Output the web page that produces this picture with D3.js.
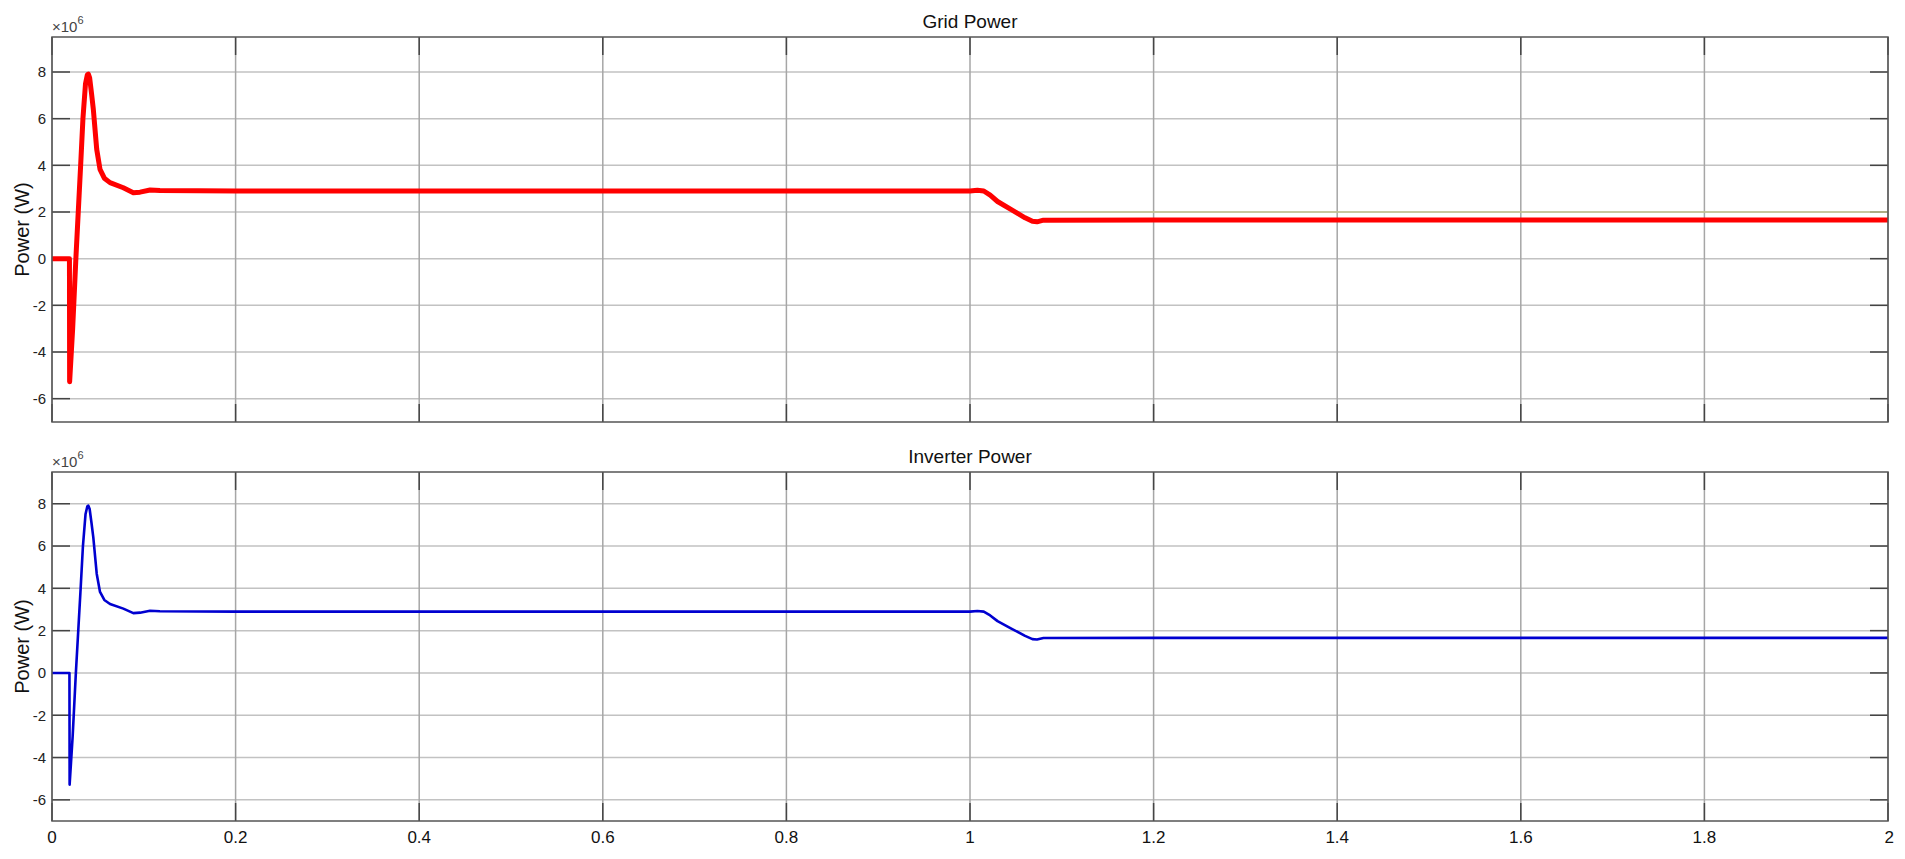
<!DOCTYPE html>
<html>
<head>
<meta charset="utf-8">
<script src="https://cdn.jsdelivr.net/npm/d3@7"></script>
<style>
  body { margin: 0; background: #fff; }
  svg { display: block; font-family: Arial, "Liberation Sans", sans-serif; }
</style>
</head>
<body>
<div id="chart"></div>
<script>
// time (s) and power (x10^6 W)
var time = [0, 0.019, 0.0192, 0.0225, 0.026, 0.0286, 0.0312, 0.0337, 0.0365, 0.0385, 0.0396, 0.041, 0.043, 0.045,
  0.0487, 0.0523, 0.057, 0.0632, 0.0777, 0.0886, 0.0959, 0.1068, 0.1176, 0.2, 0.5, 1.0, 1.008, 1.015, 1.022,
  1.03, 1.045, 1.06, 1.068, 1.073, 1.08, 1.2, 2.0];
var gridPower = [0, 0, -5.28, -3.0, 0, 2, 4, 6, 7.5, 7.88, 7.91, 7.75, 7.1, 6.41,
  4.69, 3.83, 3.45, 3.26, 3.04, 2.83, 2.85, 2.94, 2.92, 2.9, 2.9, 2.9, 2.93, 2.9, 2.72,
  2.45, 2.1, 1.75, 1.6, 1.58, 1.65, 1.66, 1.66];
var inverterPower = [0, 0, -5.28, -3.0, 0, 2, 4, 6, 7.5, 7.88, 7.91, 7.75, 7.1, 6.41,
  4.69, 3.83, 3.45, 3.26, 3.04, 2.83, 2.85, 2.94, 2.92, 2.9, 2.9, 2.9, 2.93, 2.9, 2.72,
  2.45, 2.1, 1.75, 1.6, 1.58, 1.65, 1.66, 1.66];
// faint olive trace visible behind the top grid line after the step
var refTime = [1.075, 2.0];
var refPower = [2, 2];

var xTicks = [0, 0.2, 0.4, 0.6, 0.8, 1, 1.2, 1.4, 1.6, 1.8, 2];
var yTicks = [-6, -4, -2, 0, 2, 4, 6, 8];
var titles = ["Grid Power", "Inverter Power"];

var W = 1905, H = 859;
var left = 52, right = 1888;

var svg = d3.select("#chart").append("svg")
  .attr("width", W)
  .attr("height", H);

var x = d3.scaleLinear().domain([0, 2]).range([left, right]);

var panels = [
  {title: titles[0], top: 37, bottom: 422, values: gridPower, color: "#ff0000", width: 5, ref: true},
  {title: titles[1], top: 472, bottom: 821, values: inverterPower, color: "#0000d0", width: 2.6, ref: false}
];

panels.forEach(function(p, idx) {
  var y = d3.scaleLinear().domain([-7, 9.5]).range([p.bottom, p.top]);
  var g = svg.append("g");

  // horizontal grid
  g.selectAll("line.hgrid")
    .data(yTicks)
    .enter()
    .append("line")
    .attr("class", "hgrid")
    .attr("x1", left).attr("x2", right)
    .attr("y1", function(d) { return y(d); })
    .attr("y2", function(d) { return y(d); })
    .attr("stroke", "#c2c2c2")
    .attr("stroke-width", 1.5);

  // vertical grid
  g.selectAll("line.vgrid")
    .data(xTicks)
    .enter()
    .append("line")
    .attr("class", "vgrid")
    .attr("x1", function(d) { return x(d); })
    .attr("x2", function(d) { return x(d); })
    .attr("y1", p.top).attr("y2", p.bottom)
    .attr("stroke", "#a6a6a6")
    .attr("stroke-width", 1.5);

  // inward ticks on all four sides
  var tl = 18;
  g.selectAll("line.ytl").data(yTicks).enter().append("line")
    .attr("x1", left).attr("x2", left + tl)
    .attr("y1", function(d) { return y(d); }).attr("y2", function(d) { return y(d); })
    .attr("stroke", "#444").attr("stroke-width", 1.5);
  g.selectAll("line.ytr").data(yTicks).enter().append("line")
    .attr("x1", right - tl).attr("x2", right)
    .attr("y1", function(d) { return y(d); }).attr("y2", function(d) { return y(d); })
    .attr("stroke", "#444").attr("stroke-width", 1.5);
  g.selectAll("line.xtb").data(xTicks).enter().append("line")
    .attr("x1", function(d) { return x(d); }).attr("x2", function(d) { return x(d); })
    .attr("y1", p.bottom - tl).attr("y2", p.bottom)
    .attr("stroke", "#444").attr("stroke-width", 1.5);
  g.selectAll("line.xtt").data(xTicks).enter().append("line")
    .attr("x1", function(d) { return x(d); }).attr("x2", function(d) { return x(d); })
    .attr("y1", p.top).attr("y2", p.top + tl)
    .attr("stroke", "#444").attr("stroke-width", 1.5);

  if (p.ref) {
    g.append("path")
      .datum(d3.zip(refTime, refPower))
      .attr("fill", "none")
      .attr("stroke", "#c4c48e")
      .attr("stroke-width", 1.5)
      .attr("d", d3.line()
        .x(function(d) { return x(d[0]); })
        .y(function(d) { return y(d[1]); }));
  }

  // signal
  g.append("path")
    .datum(d3.zip(time, p.values))
    .attr("fill", "none")
    .attr("stroke", p.color)
    .attr("stroke-width", p.width)
    .attr("stroke-linejoin", "round")
    .attr("d", d3.line()
      .x(function(d) { return x(d[0]); })
      .y(function(d) { return y(d[1]); }));

  // frame
  g.append("rect")
    .attr("x", left).attr("y", p.top)
    .attr("width", right - left).attr("height", p.bottom - p.top)
    .attr("fill", "none")
    .attr("stroke", "#555")
    .attr("stroke-width", 1.5);

  // y tick labels
  g.selectAll("text.ylab")
    .data(yTicks)
    .enter()
    .append("text")
    .attr("x", left - 6)
    .attr("y", function(d) { return y(d); })
    .attr("dy", "0.36em")
    .attr("text-anchor", "end")
    .attr("font-size", 15)
    .attr("fill", "#222")
    .text(function(d) { return d; });

  // exponent
  var ex = g.append("text")
    .attr("x", left)
    .attr("y", p.top - 5)
    .attr("font-size", 15)
    .attr("fill", "#444");
  ex.append("tspan").text("\u00d710");
  ex.append("tspan").attr("dy", -8).attr("font-size", 11).text("6");

  // y label
  g.append("text")
    .attr("transform", "translate(" + 22 + "," + ((p.top + p.bottom) / 2) + ") rotate(-90)")
    .attr("text-anchor", "middle")
    .attr("dy", "0.35em")
    .attr("font-size", 20)
    .attr("fill", "#111")
    .text("Power (W)");

  // title
  g.append("text")
    .attr("x", (left + right) / 2)
    .attr("y", p.top - 9)
    .attr("text-anchor", "middle")
    .attr("font-size", 19)
    .attr("fill", "#111")
    .text(p.title);

  // x tick labels only under the lower panel
  if (idx === 1) {
    g.selectAll("text.xlab")
      .data(xTicks)
      .enter()
      .append("text")
      .attr("x", function(d) { return x(d); })
      .attr("y", p.bottom + 22)
      .attr("text-anchor", function(d) { return d === 2 ? "end" : "middle"; })
      .attr("dx", function(d) { return d === 2 ? 6 : 0; })
      .attr("font-size", 17)
      .attr("fill", "#111")
      .text(function(d) { return d; });
  }
});
</script>
</body>
</html>
